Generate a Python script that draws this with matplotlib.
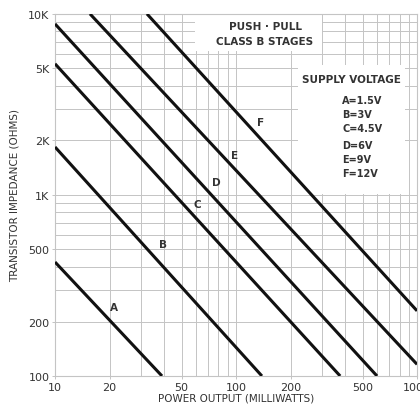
import matplotlib
matplotlib.use('Agg')
import matplotlib.pyplot as plt
from matplotlib.patches import Rectangle

# line end points: (mW, ohms)
names = ['A', 'B', 'C', 'D', 'E', 'F']
volts = ['1.5V', '3V', '4.5V', '6V', '9V', '12V']
p_start = [10, 10, 10, 10, 15.6, 32.2]
z_start = [426, 1840, 5300, 8800, 10000, 10000]
p_end = [39, 139, 376, 601, 1000, 1000]
z_end = [100, 100, 100, 100, 116, 229]
# where the curve letters sit
lab_p = [21.2, 39.5, 61, 77.5, 98.6, 136]
lab_z = [240, 536, 891, 1180, 1663, 2530]

x_ticks = [10, 20, 50, 100, 200, 500, 1000]
x_ticklabels = ['10', '20', '50', '100', '200', '500', '1000']
y_ticks = [100, 200, 500, 1000, 2000, 5000, 10000]
y_ticklabels = ['100', '200', '500', '1K', '2K', '5K', '10K']

plt.rcParams['font.family'] = ['DejaVu Sans']
fig = plt.figure(figsize=(4.2, 4.06), dpi=100)
ax = fig.add_axes([0.131, 0.0714, 0.862, 0.892])
ax.set_xscale('log')
ax.set_yscale('log')
ax.set_xlim(10, 1000)
ax.set_ylim(100, 10000)

# graph paper grid
gc = '#c4c4c4'
for dec in [10, 100]:
    for m in range(1, 10):
        ax.axvline(dec * m, color=gc, lw=0.7, zorder=1)
for dec in [100, 1000]:
    for m in range(1, 10):
        ax.axhline(dec * m, color=gc, lw=0.7, zorder=1)

# white panels behind the notes
ax.add_patch(Rectangle((0.387, 0.898), 0.351, 0.102, transform=ax.transAxes,
                       facecolor='white', edgecolor='none', zorder=2))
ax.add_patch(Rectangle((0.671, 0.503), 0.296, 0.356, transform=ax.transAxes,
                       facecolor='white', edgecolor='none', zorder=2))

for i in range(len(names)):
    ax.plot([p_start[i], p_end[i]], [z_start[i], z_end[i]], color='#111111',
            lw=2.2, solid_capstyle='butt', zorder=3)
    ax.text(lab_p[i], lab_z[i], names[i], fontsize=7.5, fontweight='bold',
            color='#333333', ha='center', va='center', zorder=4)

ax.text(0.58, 0.967, 'PUSH · PULL', transform=ax.transAxes, fontsize=7.5,
        fontweight='bold', color='#333333', ha='center', va='center', zorder=4)
ax.text(0.58, 0.925, 'CLASS B STAGES', transform=ax.transAxes, fontsize=7.5,
        fontweight='bold', color='#333333', ha='center', va='center', zorder=4)
ax.text(0.682, 0.820, 'SUPPLY VOLTAGE', transform=ax.transAxes, fontsize=7.5,
        fontweight='bold', color='#333333', ha='left', va='center', zorder=4)
leg_y = [0.762, 0.724, 0.685, 0.638, 0.599, 0.561]
for i in range(len(names)):
    ax.text(0.793, leg_y[i], f'{names[i]}={volts[i]}', transform=ax.transAxes,
            fontsize=7, fontweight='bold', color='#333333', ha='left',
            va='center', zorder=4)

ax.set_xticks(x_ticks)
ax.set_xticklabels(x_ticklabels)
ax.set_yticks(y_ticks)
ax.set_yticklabels(y_ticklabels)
ax.minorticks_off()
ax.tick_params(length=2, width=0.7, color=gc, labelsize=8,
               labelcolor='#333333', pad=2)
for s in ax.spines.values():
    s.set_color(gc)
    s.set_linewidth(0.8)

ax.set_xlabel('POWER OUTPUT (MILLIWATTS)', fontsize=7.5, color='#333333',
              labelpad=1)
ax.set_ylabel('TRANSISTOR IMPEDANCE (OHMS)', fontsize=7.5, color='#333333',
              labelpad=6)

fig.savefig('out.png', dpi=100)
